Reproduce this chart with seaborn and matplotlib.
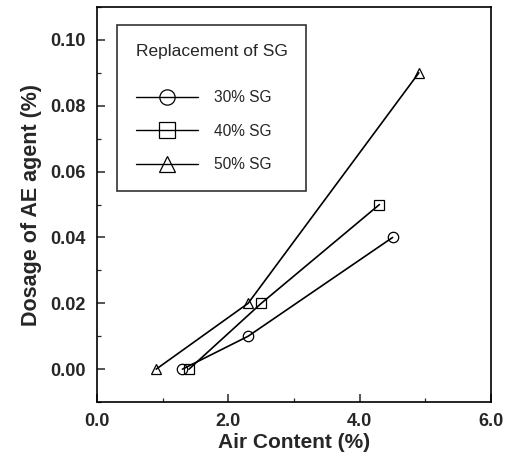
import pandas as pd
import seaborn as sns
import matplotlib.pyplot as plt
from matplotlib.lines import Line2D
from matplotlib.ticker import MultipleLocator, FormatStrFormatter

groups = ['30% SG', '40% SG', '50% SG']
air_30 = [1.3, 2.3, 4.5]
dose_30 = [0.0, 0.01, 0.04]
air_40 = [1.4, 2.5, 4.3]
dose_40 = [0.0, 0.02, 0.05]
air_50 = [0.9, 2.3, 4.9]
dose_50 = [0.0, 0.02, 0.09]

df = pd.concat([
    pd.DataFrame({'air': air_30, 'dose': dose_30, 'group': groups[0]}),
    pd.DataFrame({'air': air_40, 'dose': dose_40, 'group': groups[1]}),
    pd.DataFrame({'air': air_50, 'dose': dose_50, 'group': groups[2]}),
])

sns.set_style('ticks')
plt.rcParams['font.family'] = ['Liberation Sans', 'DejaVu Sans']

marker_map = {'30% SG': 'o', '40% SG': 's', '50% SG': '^'}

fig = plt.figure(figsize=(5.11, 4.67), dpi=100)
ax = fig.add_axes([0.19, 0.139, 0.771, 0.846])

for g in groups:
    sub = df[df['group'] == g]
    sns.lineplot(data=sub, x='air', y='dose', ax=ax, color='black', lw=1.2,
                 marker=marker_map[g], markersize=7.5, markerfacecolor='none',
                 markeredgecolor='black', markeredgewidth=0.9, sort=False,
                 legend=False)

ax.set_xlim(0, 6)
ax.set_ylim(-0.01, 0.11)
ax.xaxis.set_major_locator(MultipleLocator(2))
ax.xaxis.set_minor_locator(MultipleLocator(1))
ax.yaxis.set_major_locator(MultipleLocator(0.02))
ax.yaxis.set_minor_locator(MultipleLocator(0.01))
ax.xaxis.set_major_formatter(FormatStrFormatter('%.1f'))
ax.yaxis.set_major_formatter(FormatStrFormatter('%.2f'))
ax.tick_params(which='both', direction='in', labelsize=13, pad=8)
ax.tick_params(which='major', length=6, width=1.1)
ax.tick_params(which='minor', length=3, width=0.9)
for lbl in ax.get_xticklabels() + ax.get_yticklabels():
    lbl.set_fontweight('bold')
for s in ax.spines.values():
    s.set_linewidth(1.2)
    s.set_color('black')

ax.set_xlabel('Air Content (%)', fontsize=15, fontweight='bold', labelpad=2)
ax.set_ylabel('Dosage of AE agent (%)', fontsize=15.5, fontweight='bold', labelpad=6)

handles = [Line2D([], [], color='black', lw=1, marker=marker_map[g], markersize=11,
                  markerfacecolor='none', markeredgecolor='black', markeredgewidth=0.9)
           for g in groups]
leg = ax.legend(handles, groups, title='Replacement of SG', loc='upper left',
                bbox_to_anchor=(0.051, 0.954), borderaxespad=0,
                prop={'size': 11.2}, title_fontproperties={'size': 12.5},
                frameon=True, fancybox=False, edgecolor='black', handlelength=4,
                borderpad=1.2, labelspacing=1.2, handletextpad=1.0,
                alignment='left')
leg.get_frame().set_linewidth(1.2)
# extra gap between the title and the entries
leg._legend_box.sep = 2.0 * 11.2

fig.savefig('out.png', dpi=100)
